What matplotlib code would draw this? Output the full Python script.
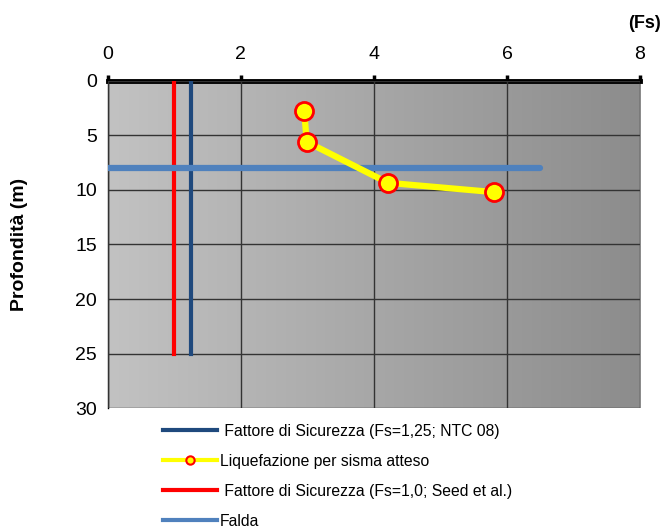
import numpy as np
import matplotlib
matplotlib.use('Agg')
import matplotlib.pyplot as plt
from matplotlib.colors import LinearSegmentedColormap

plt.rcParams['font.family'] = ['Liberation Sans', 'DejaVu Sans']

# liquefaction points (Fs, depth)
liq_fs = [2.95, 2.99, 4.21, 5.80]
liq_depth = [2.75, 5.6, 9.35, 10.2]

fs_ntc = 1.25
fs_seed = 1.0
fs_depth = [0, 25]
falda_depth = 8
falda_fs = [0, 6.5]

labels = [' Fattore di Sicurezza (Fs=1,25; NTC 08)',
          'Liquefazione per sisma atteso',
          ' Fattore di Sicurezza (Fs=1,0; Seed et al.)',
          'Falda']

fig = plt.figure(figsize=(6.66, 5.28), dpi=100)
ax = fig.add_axes([0.162, 0.227, 0.799, 0.620])

# gradient background
cmap = LinearSegmentedColormap.from_list('bg', ['#c2c2c2', '#8c8c8c'])
grad = np.linspace(0, 1, 256).reshape(1, -1)
ax.imshow(grad, cmap=cmap, aspect='auto', extent=[0, 8, 30, 0], zorder=0)

ax.set_xlim(0, 8)
ax.set_ylim(30, 0)
ax.set_xticks([0, 2, 4, 6, 8])
ax.set_yticks([0, 5, 10, 15, 20, 25, 30])
ax.grid(True, color='#333333', linewidth=1.0, zorder=1)
ax.set_axisbelow(False)

ax.xaxis.tick_top()
ax.tick_params(axis='x', labelsize=14, length=4, width=2.5, pad=9)
ax.tick_params(axis='y', labelsize=14, length=0, pad=8)
ax.spines['top'].set_linewidth(3.5)
ax.spines['left'].set_linewidth(1.0)
ax.spines['right'].set_visible(False)
ax.spines['bottom'].set_visible(False)

l1, = ax.plot([fs_ntc, fs_ntc], fs_depth, color='#1f497d', lw=3, zorder=3)
l3, = ax.plot([fs_seed, fs_seed], fs_depth, color='#ff0000', lw=3, zorder=3)
l4, = ax.plot(falda_fs, [falda_depth, falda_depth], color='#4f81bd', lw=4.5,
              solid_capstyle='round', zorder=3)
l2, = ax.plot(liq_fs, liq_depth, color='#ffff00', lw=4.5, marker='o', ms=13,
              mfc='#ffff00', mec='#ff0000', mew=2, zorder=4)

ax.set_ylabel('Profondità (m)', fontsize=14, fontweight='bold')
ax.yaxis.set_label_coords(-0.15, 0.5)
fig.text(0.992, 0.955, '(Fs)', fontsize=13, fontweight='bold', ha='right', va='center')

h2 = plt.Line2D([], [], color='#ffff00', lw=3, marker='o', ms=6,
                mfc='#ffff00', mec='#ff0000', mew=1.5)
h1 = plt.Line2D([], [], color='#1f497d', lw=3)
h3 = plt.Line2D([], [], color='#ff0000', lw=3)
h4 = plt.Line2D([], [], color='#4f81bd', lw=3)
fig.legend([h1, h2, h3, h4], labels, loc='upper left', bbox_to_anchor=(0.236, 0.209),
           frameon=False, fontsize=11.3, handlelength=3.4, handletextpad=0.2,
           labelspacing=0.95, borderaxespad=0)

fig.savefig('out.png', dpi=100)
